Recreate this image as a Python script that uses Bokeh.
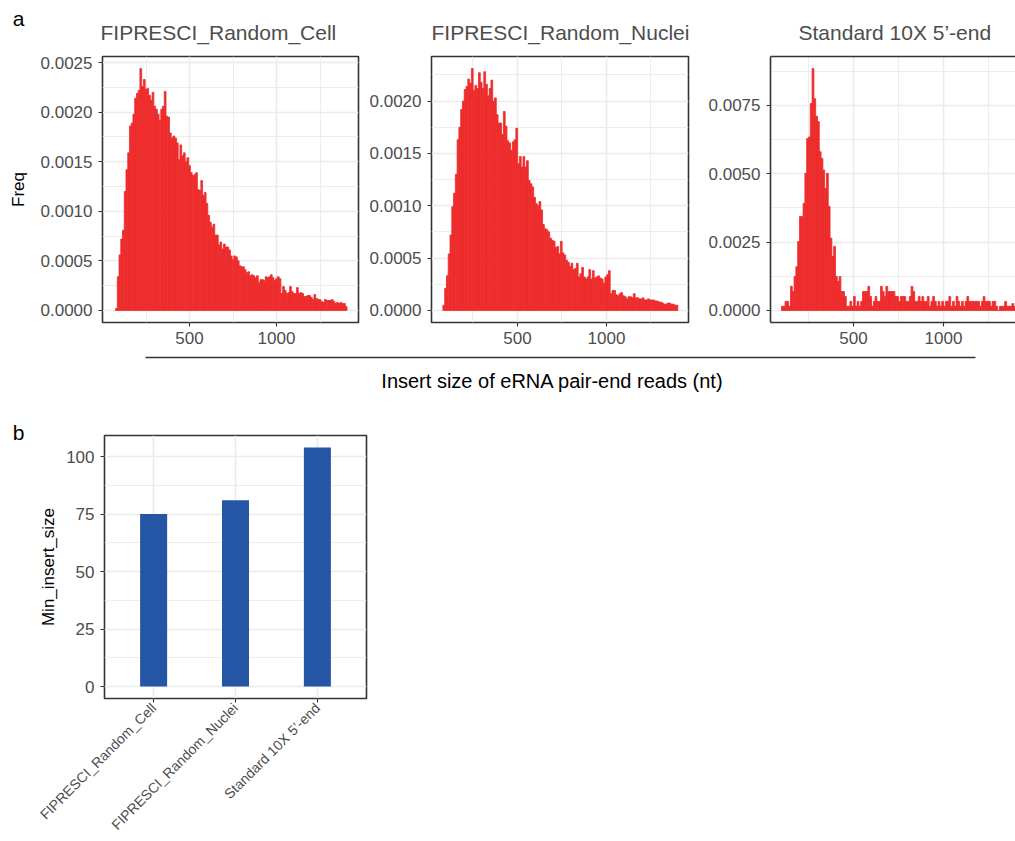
import math
import numpy as np
from bokeh.plotting import figure
from bokeh.models import Range1d, FixedTicker, PrintfTickFormatter, Label, LinearAxis
from bokeh.layouts import row, column
from bokeh.embed import file_html
from bokeh.resources import INLINE

# ---------------- data ----------------
bin_width = 10

cell_start = 75
cell_freq = [
    0.00002, 0.00034, 0.00056, 0.00072, 0.00081, 0.00120, 0.00142, 0.00159, 0.00186, 0.00189,
    0.00198, 0.00214, 0.00219, 0.00222, 0.00244, 0.00226, 0.00233, 0.00223, 0.00224, 0.00217,
    0.00212, 0.00220, 0.00206, 0.00203, 0.00198, 0.00192, 0.00203, 0.00206, 0.00221, 0.00196,
    0.00195, 0.00179, 0.00174, 0.00176, 0.00174, 0.00169, 0.00152, 0.00167, 0.00156, 0.00159,
    0.00150, 0.00154, 0.00146, 0.00139, 0.00136, 0.00137, 0.00139, 0.00122, 0.00121, 0.00131,
    0.00116, 0.00119, 0.00108, 0.00096, 0.00089, 0.00084, 0.00087, 0.00076, 0.00076, 0.00066,
    0.00069, 0.00062, 0.00067, 0.00064, 0.00064, 0.00061, 0.00055, 0.00051, 0.00055, 0.00054,
    0.00050, 0.00045, 0.00044, 0.00044, 0.00041, 0.00038, 0.00039, 0.00035, 0.00036, 0.00035,
    0.00033, 0.00035, 0.00028, 0.00031, 0.00031, 0.00030, 0.00034, 0.00033, 0.00034, 0.00036,
    0.00033, 0.00030, 0.00032, 0.00034, 0.00032, 0.00017, 0.00024, 0.00020, 0.00017, 0.00018,
    0.00024, 0.00019, 0.00017, 0.00017, 0.00023, 0.00017, 0.00018, 0.00017, 0.00014, 0.00014,
    0.00015, 0.00015, 0.00013, 0.00011, 0.00016, 0.00012, 0.00011, 0.00011, 0.00009, 0.00008,
    0.00011, 0.00010, 0.00010, 0.00010, 0.00011, 0.00009, 0.00007, 0.00008, 0.00007, 0.00008,
    0.00007, 0.00007, 0.00004,
]

nuclei_start = 81
nuclei_freq = [
    0.00005, 0.00021, 0.00033, 0.00054, 0.00072, 0.00099, 0.00112, 0.00130, 0.00163, 0.00175,
    0.00192, 0.00200, 0.00211, 0.00214, 0.00221, 0.00217, 0.00231, 0.00210, 0.00215, 0.00212,
    0.00227, 0.00218, 0.00212, 0.00228, 0.00216, 0.00205, 0.00212, 0.00220, 0.00200, 0.00203,
    0.00187, 0.00179, 0.00179, 0.00168, 0.00190, 0.00176, 0.00162, 0.00160, 0.00153, 0.00161,
    0.00163, 0.00174, 0.00140, 0.00147, 0.00137, 0.00147, 0.00137, 0.00143, 0.00124, 0.00121,
    0.00118, 0.00108, 0.00102, 0.00100, 0.00104, 0.00096, 0.00082, 0.00078, 0.00077, 0.00075,
    0.00069, 0.00067, 0.00066, 0.00060, 0.00061, 0.00054, 0.00066, 0.00055, 0.00053, 0.00048,
    0.00046, 0.00042, 0.00045, 0.00039, 0.00040, 0.00045, 0.00032, 0.00035, 0.00041, 0.00032,
    0.00030, 0.00032, 0.00039, 0.00030, 0.00038, 0.00031, 0.00032, 0.00033, 0.00031, 0.00030,
    0.00026, 0.00032, 0.00034, 0.00038, 0.00016, 0.00019, 0.00019, 0.00015, 0.00014, 0.00016,
    0.00017, 0.00014, 0.00013, 0.00011, 0.00013, 0.00013, 0.00012, 0.00016, 0.00012, 0.00012,
    0.00011, 0.00011, 0.00012, 0.00010, 0.00010, 0.00011, 0.00010, 0.00010, 0.00010, 0.00009,
    0.00009, 0.00008, 0.00008, 0.00007, 0.00006, 0.00006, 0.00007, 0.00007, 0.00006, 0.00006,
    0.00005, 0.00005,
]

std_start = 100
std_freq = [
    0.00015, 0.00015, 0.00033, 0.00033, 0.00015, 0.00088, 0.00069, 0.00124, 0.00160, 0.00252,
    0.00343, 0.00343, 0.00391, 0.00501, 0.00628, 0.00634, 0.00756, 0.00884, 0.00774, 0.00710,
    0.00690, 0.00580, 0.00555, 0.00513, 0.00446, 0.00501, 0.00380, 0.00264, 0.00197, 0.00234,
    0.00124, 0.00106, 0.00124, 0.00069, 0.00069, 0.00051, 0.00015, 0.00015, 0.00033, 0.00015,
    0.00051, 0.00015, 0.00033, 0.00015, 0.00033, 0.00069, 0.00069, 0.00069, 0.00088, 0.00051,
    0.00015, 0.00033, 0.00051, 0.00033, 0.00033, 0.00088, 0.00069, 0.00051, 0.00088, 0.00069,
    0.00069, 0.00069, 0.00069, 0.00051, 0.00051, 0.00033, 0.00051, 0.00051, 0.00051, 0.00033,
    0.00033, 0.00051, 0.00088, 0.00069, 0.00033, 0.00033, 0.00051, 0.00033, 0.00051, 0.00033,
    0.00033, 0.00051, 0.00015, 0.00033, 0.00051, 0.00033, 0.00015, 0.00033, 0.00015, 0.00033,
    0.00015, 0.00033, 0.00033, 0.00051, 0.00015, 0.00033, 0.00015, 0.00051, 0.00033, 0.00015,
    0.00033, 0.00015, 0.00033, 0.00051, 0.00033, 0.00033, 0.00033, 0.00033, 0.00033, 0.00033,
    0.00015, 0.00033, 0.00051, 0.00033, 0.00033, 0.00033, 0.00015, 0.00033, 0.00033, 0.00015,
    0.00000, 0.00015, 0.00015, 0.00015, 0.00033, 0.00015, 0.00015, 0.00015, 0.00025, 0.00015,
]

panel_titles = ["FIPRESCI_Random_Cell", "FIPRESCI_Random_Nuclei", "Standard 10X 5\u2019-end"]
x_ticks = [500, 1000]
x_minor = [250, 750, 1250]
y_ticks_cell = [0.0, 0.0005, 0.0010, 0.0015, 0.0020, 0.0025]
y_ticks_nuclei = [0.0, 0.0005, 0.0010, 0.0015, 0.0020]
y_ticks_std = [0.0, 0.0025, 0.0050, 0.0075]

bar_categories = ["FIPRESCI_Random_Cell", "FIPRESCI_Random_Nuclei", "Standard 10X 5\u2019-end"]
min_insert_size = [75, 81, 104]
bar_y_ticks = [0, 25, 50, 75, 100]
bar_y_minor = [12.5, 37.5, 62.5, 87.5]

# ---------------- style ----------------
FONT = "Liberation Sans"
RED = "#EE2C2C"
BLUE = "#2556A6"
GRID = "#EBEBEB"
BORDER = "#333333"
TICKTXT = "#4D4D4D"


def style_axes(p):
    for ax in p.axis:
        ax.axis_line_color = None
        ax.major_tick_line_color = BORDER
        ax.major_tick_line_width = 1.1
        ax.major_tick_in = 0
        ax.major_tick_out = 4
        ax.minor_tick_line_color = None
        ax.major_label_text_font = FONT
        ax.major_label_text_font_size = "17px"
        ax.major_label_text_color = TICKTXT
        ax.major_label_standoff = 3
        ax.axis_label_text_font = FONT
        ax.axis_label_text_font_style = "normal"
        ax.axis_label_text_color = "black"
    p.yaxis.major_label_standoff = 6
    p.xgrid.grid_line_color = GRID
    p.xgrid.grid_line_width = 1.6
    p.ygrid.grid_line_color = GRID
    p.ygrid.grid_line_width = 1.6
    p.xgrid.minor_grid_line_color = GRID
    p.xgrid.minor_grid_line_width = 0.9
    p.ygrid.minor_grid_line_color = GRID
    p.ygrid.minor_grid_line_width = 0.9
    p.background_fill_color = "white"
    p.border_fill_color = "white"


def text_strip(width, height):
    """Narrow blank figure whose whole canvas is the frame (pixel coordinates)."""
    s = figure(width=width, height=height,
               x_range=Range1d(0, width), y_range=Range1d(0, height),
               output_backend="svg", toolbar_location=None, min_border=0,
               x_axis_type=None, y_axis_type=None)
    s.outline_line_color = None
    s.xgrid.visible = False
    s.ygrid.visible = False
    return s


LEFT_STRIP = 36
FRAME_TOP = 56
FRAME_H = 266
BOTTOM_B = 30
ROW_H = FRAME_TOP + FRAME_H + BOTTOM_B


def hist_panel(title, start, freq, yticks, xr, left_b, frame_w, right_b, title_offset, open_right=False):
    ymax = max(freq)
    p = figure(width=left_b + frame_w + right_b, height=ROW_H,
               x_range=Range1d(*xr), y_range=Range1d(-0.05 * ymax, 1.05 * ymax),
               output_backend="svg", toolbar_location=None,
               min_border_left=left_b, min_border_right=right_b,
               min_border_top=FRAME_TOP, min_border_bottom=BOTTOM_B,
               title=title)
    lefts = start + bin_width * np.arange(len(freq))
    p.quad(left=lefts, right=lefts + bin_width, bottom=0, top=freq,
           fill_color=RED, line_color=RED, line_width=0.8)
    style_axes(p)
    p.xaxis.ticker = FixedTicker(ticks=x_ticks, minor_ticks=x_minor)
    p.xaxis.major_label_standoff = 5
    minor_y = [(a + b) / 2 for a, b in zip(yticks[:-1], yticks[1:])]
    minor_y.append(yticks[-1] + (yticks[1] - yticks[0]) / 2)
    p.yaxis.ticker = FixedTicker(ticks=yticks, minor_ticks=minor_y)
    p.yaxis.formatter = PrintfTickFormatter(format="%.4f")
    p.title.text_font = FONT
    p.title.text_font_size = "21px"
    p.title.text_font_style = "normal"
    p.title.text_color = TICKTXT
    p.title.align = "left"
    p.title.offset = title_offset
    p.title.standoff = 25
    if open_right:
        p.outline_line_color = None
        for ax in p.axis:
            ax.axis_line_color = BORDER
            ax.axis_line_width = 1.6
        top = LinearAxis(ticker=FixedTicker(ticks=[]), axis_line_color=BORDER,
                         axis_line_width=1.6, major_tick_line_color=None,
                         minor_tick_line_color=None)
        p.add_layout(top, "above")
    else:
        p.outline_line_color = BORDER
        p.outline_line_width = 1.6
    return p


pa = text_strip(LEFT_STRIP, ROW_H)
pa.add_layout(Label(x=LEFT_STRIP / 2, y=ROW_H - 18, text="a",
                    text_font=FONT, text_font_size="21px", text_align="center",
                    text_baseline="middle", text_color="black"))
pa.add_layout(Label(x=LEFT_STRIP / 2, y=ROW_H - FRAME_TOP - FRAME_H / 2, text="Freq",
                    angle=math.pi / 2, text_font=FONT, text_font_size="17px",
                    text_align="center", text_baseline="middle", text_color="black"))

p1 = hist_panel(panel_titles[0], cell_start, cell_freq, y_ticks_cell, (0, 1471),
                102 - LEFT_STRIP, 256, 4, -2)
p2 = hist_panel(panel_titles[1], nuclei_start, nuclei_freq, y_ticks_nuclei, (17, 1461),
                69, 257, 16, 0)
p3 = hist_panel(panel_titles[2], std_start, std_freq, y_ticks_std, (39, 1400),
                66, 245, 0, 28, open_right=True)

# shared x label strip
XL_H = 48
px = text_strip(1015, XL_H)
px.segment(x0=[145], y0=[XL_H - 5], x1=[975], y1=[XL_H - 5], line_color=BORDER, line_width=1.5)
px.add_layout(Label(x=552, y=XL_H - 28, text="Insert size of eRNA pair-end reads (nt)",
                    text_font=FONT, text_font_size="20px", text_align="center",
                    text_baseline="middle", text_color="black"))

# bar chart
B_TOP = 35
B_FRAME_H = 268
B_BOTTOM = 138
B_H = B_TOP + B_FRAME_H + B_BOTTOM
pbl = text_strip(LEFT_STRIP, B_H)
pbl.add_layout(Label(x=LEFT_STRIP / 2, y=B_H - 32, text="b",
                     text_font=FONT, text_font_size="21px", text_align="center",
                     text_baseline="middle", text_color="black"))

bx = list(range(1, len(bar_categories) + 1))
bmax = max(min_insert_size)
pb = figure(width=102 - LEFT_STRIP + 264 + 10, height=B_H,
            x_range=Range1d(0.4, len(bar_categories) + 0.6),
            y_range=Range1d(-0.05 * bmax, 1.05 * bmax),
            output_backend="svg", toolbar_location=None,
            min_border_left=102 - LEFT_STRIP, min_border_right=10,
            min_border_top=B_TOP, min_border_bottom=B_BOTTOM)
pb.vbar(x=bx, width=0.33, bottom=0, top=min_insert_size, fill_color=BLUE, line_color=None)
style_axes(pb)
pb.outline_line_color = BORDER
pb.outline_line_width = 1.6
pb.xaxis.ticker = FixedTicker(ticks=bx, minor_ticks=[])
pb.xaxis.major_label_overrides = {i: c for i, c in zip(bx, bar_categories)}
pb.xaxis.major_label_orientation = math.pi / 4
pb.xaxis.major_label_text_font_size = "14px"
pb.yaxis.ticker = FixedTicker(ticks=bar_y_ticks, minor_ticks=bar_y_minor)
pb.yaxis.axis_label = "Min_insert_size"
pb.yaxis.axis_label_text_font_size = "17px"
pb.yaxis.axis_label_standoff = 5

layout = column(row(column(pa), p1, p2, p3), row(px), row(column(pbl), pb))
open("out.html", "w").write(file_html(layout, INLINE))
